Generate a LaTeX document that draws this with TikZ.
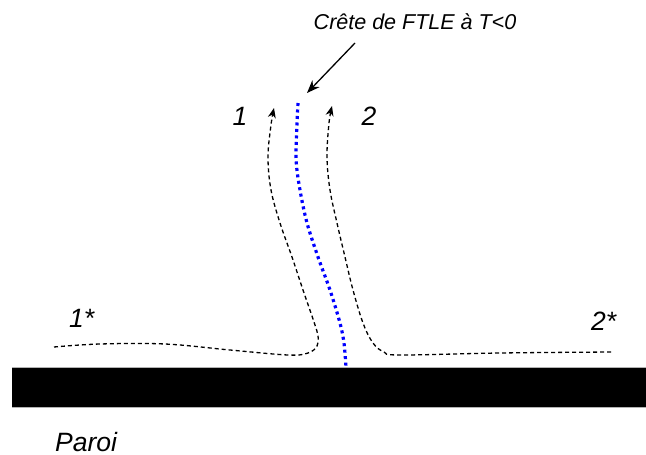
\documentclass[tikz,border=0pt]{standalone}
\usepackage{fontspec}
\setmainfont{Liberation Sans}
\usetikzlibrary{arrows.meta}
\begin{document}
\begin{tikzpicture}[x=1pt,y=-1pt,
  lbl/.style={font=\itshape\fontsize{26.5}{26.5}\selectfont, inner sep=0pt},
  toplbl/.style={font=\itshape\fontsize{21.5}{21.5}\selectfont, inner sep=0pt},
  traj/.style={black, line width=1.3pt, dash pattern=on 4pt off 3pt},
  ridge/.style={blue, line width=3.2pt, dash pattern=on 3pt off 3.5pt},
  tip/.style={-{Stealth[length=10pt,width=8pt]}}]
\useasboundingbox (0,0) rectangle (646,455);
% wall
\fill[black] (12,367) rectangle (646,407);
\draw[gray!60, line width=0.6pt] (12,367) -- (646,367) (12,407) -- (646,407);
% labels
\node[toplbl, anchor=base] (crete) at (415,30) {Crête de FTLE à T<0};
\node[lbl, anchor=base] (l1) at (240,125) {1};
\node[lbl, anchor=base] (l2) at (369,125) {2};
\node[lbl, anchor=base west] (l1s) at (69,327) {1*};
\node[lbl, anchor=base west] (l2s) at (591,330) {2*};
\node[lbl, anchor=base west] (paroi) at (55,451) {Paroi};
% ridge
\draw[ridge] plot[smooth] coordinates {(298,103) (296,157) (300,190) (307,223) (318,257) (330,290) (340,323) (344,343) (346,367)};
% trajectory 1
\draw[traj, tip] plot[smooth, tension=0.6] coordinates {(54,347) (100,344) (165,344) (230,350) (288,355) (308,353) (317,346) (318,336) (314,322) (303,290) (292,257) (280,223) (271,190) (268,157) (271,125) (274,108)};
% trajectory 2
\draw[traj, tip] plot[smooth, tension=0.6] coordinates {(611,352) (500,353) (400,355) (384,352) (373,343) (363,323) (353,290) (345,257) (337,223) (330,190) (327,157) (329,123) (332,106)};
% pointer
\coordinate (ptr) at (307,93);
\draw[black, line width=1.3pt, -{Stealth[length=13pt,width=10pt]}] (355,43) -- (ptr);
\end{tikzpicture}
\end{document}
